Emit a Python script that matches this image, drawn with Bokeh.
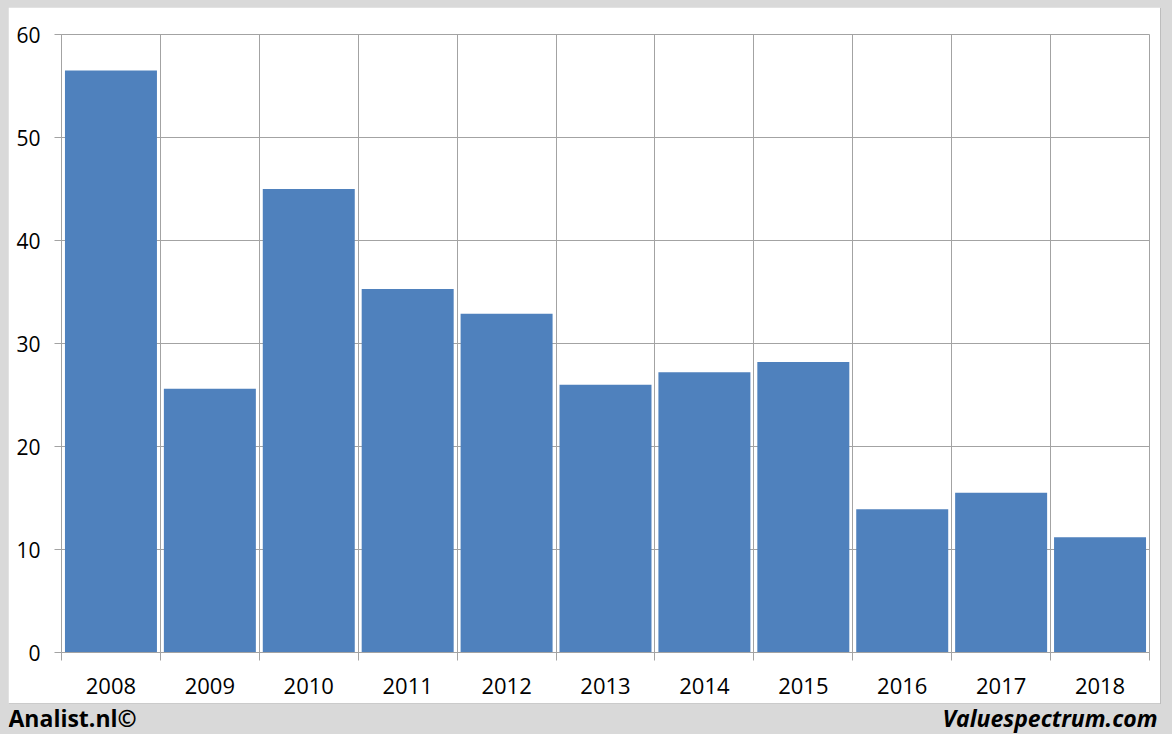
from bokeh.plotting import figure
from bokeh.models import (ColumnDataSource, FixedTicker, Range1d, Label,
                          GlobalInlineStyleSheet)
from bokeh.embed import file_html
from bokeh.resources import INLINE

years = ["2008", "2009", "2010", "2011", "2012", "2013", "2014", "2015", "2016", "2017", "2018"]
values = [56.5, 25.6, 45.0, 35.3, 32.9, 26.0, 27.2, 28.2, 13.9, 15.5, 11.2]
y_ticks = [0, 10, 20, 30, 40, 50, 60]

FONT = "Open Sans"
GRID = "#a3a3a3"
BAR = "#4f81bd"

n = len(years)
centers = [i + 0.5 for i in range(n)]
bounds = list(range(n + 1))

src = ColumnDataSource(dict(x=centers, top=values, year=years))

p = figure(width=1152, height=696, x_range=Range1d(0, n), y_range=Range1d(0, 60),
           output_backend="svg", toolbar_location=None,
           min_border_left=53, min_border_right=11, min_border_top=27, min_border_bottom=51,
           border_fill_color="white", background_fill_color="white")
p.title.visible = False
p.stylesheets = [GlobalInlineStyleSheet(
    css="html,body{background:#d9d9d9 !important;} body{padding:7px 0 0 8px !important; margin:0 !important;}")]
p.styles = {"box-shadow": "1px 1px 0 #bdbdbd"}
p.outline_line_color = GRID

p.vbar(x="x", top="top", bottom=0, width=0.93, source=src, fill_color=BAR, line_color=None)

# x axis: labels centered, ticks at category boundaries
xt = FixedTicker(ticks=centers, minor_ticks=bounds)
p.xaxis.ticker = xt
p.xaxis.major_label_overrides = {c: y for c, y in zip(centers, years)}
p.xaxis.major_tick_line_color = None
p.xaxis.minor_tick_line_color = GRID
p.xaxis.minor_tick_in = 0
p.xaxis.minor_tick_out = 8
p.xaxis.axis_line_color = GRID
p.xaxis.major_label_text_font = FONT
p.xaxis.major_label_text_font_size = "22px"
p.xaxis.major_label_text_color = "black"
p.xaxis.major_label_standoff = 17

p.xgrid.ticker = xt
p.xgrid.grid_line_color = None
p.xgrid.minor_grid_line_color = GRID

# y axis
p.yaxis.ticker = FixedTicker(ticks=y_ticks, minor_ticks=[])
p.yaxis.major_tick_in = 0
p.yaxis.major_tick_out = 7
p.yaxis.major_tick_line_color = GRID
p.yaxis.minor_tick_line_color = None
p.yaxis.axis_line_color = GRID
p.yaxis.major_label_text_font = FONT
p.yaxis.major_label_text_font_size = "21px"
p.yaxis.major_label_text_color = "black"
p.yaxis.major_label_standoff = 14
p.ygrid.grid_line_color = GRID

# footer as its own root (page x 8..1160 -> data x 8..1160)
f = figure(width=1152, height=31, x_range=Range1d(8, 1160), y_range=Range1d(0, 31),
           x_axis_type=None, y_axis_type=None,
           output_backend="svg", toolbar_location=None,
           min_border=0,
           border_fill_color="#d9d9d9", background_fill_color="#d9d9d9")
f.title.visible = False
f.grid.visible = False
f.outline_line_color = None
f.add_layout(Label(x=8, y=17, text="Analist.nl©", text_font=FONT, text_font_size="23px",
                   text_font_style="bold", text_color="black", text_baseline="alphabetic"))
f.add_layout(Label(x=1157, y=17, text="Valuespectrum.com", text_font=FONT, text_font_size="23px",
                   text_font_style="bold italic", text_color="black", text_align="right",
                   text_baseline="alphabetic"))

open("out.html", "w").write(file_html([p, f], INLINE))
